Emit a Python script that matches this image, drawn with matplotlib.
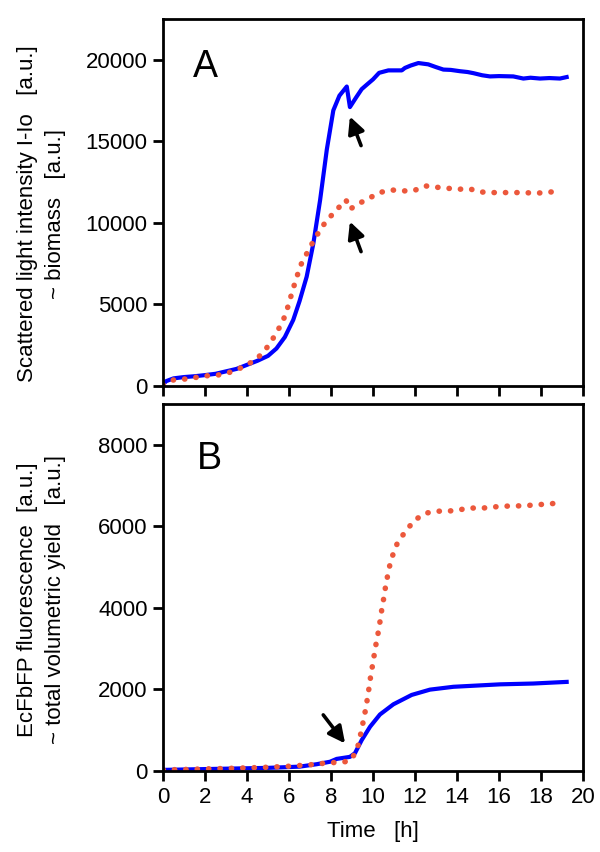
import matplotlib
matplotlib.use("Agg")
import matplotlib.pyplot as plt

plt.rcParams['font.family'] = ['Liberation Sans', 'DejaVu Sans']

BLUE = '#0000FF'
RED = '#EC583C'

# Panel A - scattered light (biomass)
a_blue_t = [0, 0.15, 0.5, 1.0, 1.5, 2.0, 2.5, 3.0, 3.5, 4.0, 4.5, 5.0, 5.4, 5.8, 6.2, 6.5,
            6.84, 7.16, 7.48, 7.8, 8.11, 8.4, 8.75, 8.9, 9.2, 9.46, 9.7, 10.0, 10.29, 10.73,
            11.37, 11.52, 11.8, 12.16, 12.63, 13.0, 13.35, 13.7, 14.14, 14.5, 14.78, 15.2,
            15.57, 16.0, 16.68, 17.16, 17.5, 17.95, 18.4, 18.9, 19.22]
a_blue_y = [100, 300, 470, 550, 600, 670, 750, 900, 1050, 1300, 1550, 1850, 2300, 3000, 4050, 5200,
            6700, 8750, 11400, 14500, 16900, 17800, 18360, 17100, 17700, 18200, 18470, 18800, 19200, 19350,
            19350, 19500, 19650, 19800, 19720, 19550, 19400, 19380, 19300, 19250, 19180, 19050,
            18980, 19000, 18980, 18850, 18900, 18850, 18880, 18850, 18940]

a_red_t = [0, 0.49, 1.05, 1.57, 2.08, 2.6, 3.13, 3.65, 4.17, 4.7, 5.1, 5.41, 5.7, 5.89, 6.05,
           6.2, 6.37, 6.52, 6.81, 7.08, 7.4, 7.75, 8.22, 8.71, 8.9, 9.35, 9.86, 10.37, 10.89,
           11.41, 11.95, 12.48, 13.0, 13.51, 14.05, 14.57, 15.1, 15.62, 16.14, 16.67, 17.19,
           17.71, 18.24, 18.75]
a_red_y = [60, 370, 430, 530, 630, 670, 820, 1080, 1430, 1940, 2620, 3290, 3950, 4620, 5320,
           5990, 6670, 7320, 8040, 8690, 9400, 10080, 10740, 11410, 10840, 11200, 11550, 11880, 12020,
           11960, 11980, 12270, 12190, 12130, 12060, 12100, 11900, 11860, 11860, 11860, 11860,
           11820, 11860, 11940]

# Panel B - EcFbFP fluorescence
b_blue_t = [0, 1, 2, 3, 4, 5, 6, 6.5, 7.32, 7.95, 8.27, 8.9, 9.14, 9.46, 9.86, 10.33, 10.97,
            11.84, 12.71, 13.83, 14.94, 16.05, 17.63, 19.22]
b_blue_y = [20, 30, 40, 50, 60, 70, 90, 100, 160, 220, 290, 340, 430, 750, 1080, 1380, 1630,
            1860, 1990, 2060, 2090, 2120, 2140, 2180]

b_red_t = [0, 1, 2, 3, 4, 5, 6, 6.84, 7.35, 7.87, 8.4, 8.9, 9.22, 9.35, 9.46, 9.57, 9.67,
           9.75, 9.83, 9.9, 10.0, 10.08, 10.17, 10.27, 10.35, 10.43, 10.52, 10.6, 10.7, 10.81,
           10.97, 11.17, 11.54, 11.98, 12.5, 13.03, 13.56, 14.08, 14.6, 15.13, 15.65, 16.17,
           16.7, 17.22, 17.75, 18.27, 18.78]
b_red_y = [20, 30, 45, 55, 70, 85, 110, 140, 160, 200, 200, 240, 480, 750, 1020, 1300, 1570,
           1830, 2100, 2370, 2650, 2920, 3190, 3450, 3720, 4000, 4260, 4530, 4800, 5070,
           5340, 5600, 5870, 6150, 6320, 6370, 6370, 6400, 6450, 6440, 6470, 6490,
           6500, 6500, 6530, 6540, 6570]

# arrows: (tail x, tail y, head x, head y)
a_arrows = [(9.43, 14740, 8.9, 16520), (9.43, 8240, 8.9, 10080)]
b_arrows = [(7.63, 1370, 8.67, 670)]

fig = plt.figure(figsize=(6, 8.52), dpi=100)
axA = fig.add_axes([0.2717, 0.5469, 0.70, 0.4308])
axB = fig.add_axes([0.2717, 0.0954, 0.70, 0.4304])

red_dots = dict(color=RED, lw=4.0, linestyle=(0, (0.05, 2.0)), dash_capstyle='round')

axA.plot(a_blue_t, a_blue_y, color=BLUE, lw=3.0, solid_joinstyle='round')
axA.plot(a_red_t, a_red_y, **red_dots)
axB.plot(b_blue_t, b_blue_y, color=BLUE, lw=3.0, solid_joinstyle='round')
axB.plot(b_red_t, b_red_y, **red_dots)

for ax, arrows in ((axA, a_arrows), (axB, b_arrows)):
    for x0, y0, x1, y1 in arrows:
        ax.annotate('', xy=(x1, y1), xytext=(x0, y0),
                    arrowprops=dict(arrowstyle='-|>', color='black', lw=2.6,
                                    mutation_scale=25, shrinkA=0, shrinkB=0))

axA.set_ylim(0, 22500)
axA.set_yticks([0, 5000, 10000, 15000, 20000])
axB.set_ylim(0, 9000)
axB.set_yticks([0, 2000, 4000, 6000, 8000])

for ax in (axA, axB):
    ax.set_xlim(0, 20)
    ax.set_xticks(range(0, 21, 2))
    for sp in ax.spines.values():
        sp.set_linewidth(2.0)
    ax.tick_params(direction='out', length=7, width=2.0, labelsize=16, pad=4)

axA.tick_params(axis='x', labelbottom=False)
axB.tick_params(axis='x', pad=5)

axA.text(0.071, 0.918, 'A', transform=axA.transAxes, fontsize=27, va='top', ha='left')
axB.text(0.081, 0.9, 'B', transform=axB.transAxes, fontsize=27, va='top', ha='left')

axA.set_ylabel('Scattered light intensity I-Io   [a.u.]\n~ biomass   [a.u.]',
               fontsize=16, linespacing=1.4)
axB.set_ylabel('EcFbFP fluorescence  [a.u.]\n~ total volumetric yield   [a.u.]',
               fontsize=16, linespacing=1.4)
axA.yaxis.set_label_coords(-0.232, 0.47)
axB.yaxis.set_label_coords(-0.232, 0.466)

axB.set_xlabel('Time   [h]', fontsize=16, labelpad=9)

fig.savefig('out.png', dpi=100)
